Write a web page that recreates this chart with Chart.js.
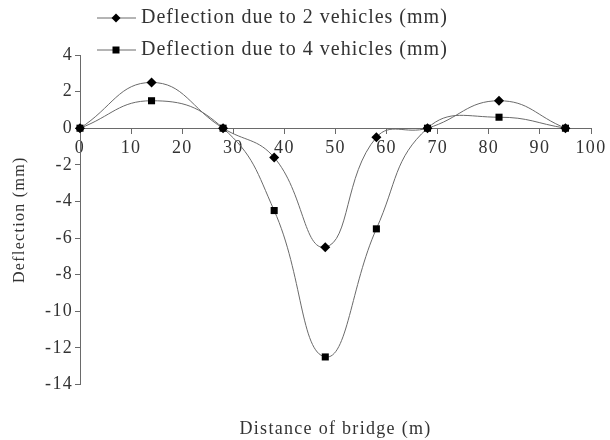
<!DOCTYPE html>
<html>
<head>
<meta charset="utf-8">
<script src="https://cdn.jsdelivr.net/npm/chart.js@4"></script>
<style>
  html, body { margin: 0; padding: 0; background: #fff; }
  #wrap { width: 610px; height: 440px; }
</style>
</head>
<body>
<div id="wrap"><canvas id="deflectionChart" width="610" height="440"></canvas></div>
<script>
// Data
const distance = [0, 14, 28, 38, 48, 58, 68, 82, 95];
const twoVehicles = [0, 2.5, 0, -1.6, -6.5, -0.5, 0, 1.5, 0];
const fourVehicles = [0, 1.5, 0, -4.5, -12.5, -5.5, 0, 0.6, 0];
const seriesNames = ['Deflection due to 2 vehicles (mm)', 'Deflection due to 4 vehicles (mm)'];
const xTicks = [0, 100, 10];   // min, max, step
const yTicks = [-14, 4, 2];

const serif = "'Liberation Serif', 'DejaVu Serif', serif";
const textColor = '#333';
const lineColor = '#6a6a6a';

function pairs(xs, ys) {
    return xs.map((x, i) => ({ x: x, y: ys[i] }));
}

// original text looks a little stretched sideways
const wideText = {
    id: 'wideText',
    beforeDraw(chart) { chart.ctx.letterSpacing = '1.3px'; }
};

// legend drawn as in the original: short line with marker, stacked rows
const lineLegend = {
    id: 'lineLegend',
    afterDraw(chart) {
        const ctx = chart.ctx;
        const rows = [18, 50];
        ctx.save();
        chart.data.datasets.forEach((ds, i) => {
            const y = rows[i];
            ctx.strokeStyle = lineColor;
            ctx.lineWidth = 1;
            ctx.beginPath();
            ctx.moveTo(97, y);
            ctx.lineTo(136, y);
            ctx.stroke();
            ctx.fillStyle = '#000';
            ctx.beginPath();
            if (ds.pointStyle === 'rectRot') {
                ctx.moveTo(116, y - 4.5);
                ctx.lineTo(120.5, y);
                ctx.lineTo(116, y + 4.5);
                ctx.lineTo(111.5, y);
                ctx.closePath();
            } else {
                ctx.rect(112.5, y - 3.5, 7, 7);
            }
            ctx.fill();
            ctx.fillStyle = textColor;
            ctx.font = '20px ' + serif;
            ctx.letterSpacing = '1px';
            ctx.textBaseline = 'middle';
            ctx.textAlign = 'left';
            ctx.fillText(ds.label, 141, y);
        });
        ctx.restore();
    }
};

const ctx = document.getElementById('deflectionChart').getContext('2d');
new Chart(ctx, {
    type: 'line',
    data: {
        datasets: [{
            label: seriesNames[0],
            data: pairs(distance, twoVehicles),
            borderColor: lineColor,
            borderWidth: 1,
            backgroundColor: '#000',
            pointStyle: 'rectRot',
            pointRadius: 5,
            pointBorderWidth: 0,
            tension: 0.45,
            clip: false
        },
        {
            label: seriesNames[1],
            data: pairs(distance, fourVehicles),
            borderColor: lineColor,
            borderWidth: 1,
            backgroundColor: '#000',
            pointStyle: 'rect',
            pointRadius: 5,
            pointBorderWidth: 0,
            tension: 0.45,
            clip: false
        }]
    },
    options: {
        responsive: false,
        animation: false,
        layout: { padding: { top: 55, right: 19, bottom: 0, left: 0 } },
        scales: {
            x: {
                type: 'linear',
                position: { y: 0 },
                min: xTicks[0],
                max: xTicks[1],
                ticks: { stepSize: xTicks[2], color: textColor, font: { family: serif, size: 18 }, padding: 4, maxRotation: 0 },
                grid: { drawOnChartArea: false, drawTicks: true, tickLength: 5, color: lineColor },
                border: { color: lineColor },
                afterFit(scale) { scale.height = 0; }
            },
            y: {
                min: yTicks[0],
                max: yTicks[1],
                ticks: { stepSize: yTicks[2], color: textColor, font: { family: serif, size: 18 }, padding: 2 },
                grid: { drawOnChartArea: false, drawTicks: true, tickLength: 5, color: lineColor },
                border: { color: lineColor },
                title: { display: true, text: 'Deflection (mm)', color: textColor, font: { family: serif, size: 16 }, padding: { top: 10, bottom: 0 } },
                afterFit(scale) { scale.width = 80; }
            }
        },
        plugins: {
            legend: { display: false },
            tooltip: { enabled: false },
            title: {
                display: true,
                position: 'bottom',
                fullSize: false,
                text: 'Distance of bridge (m)',
                color: textColor,
                font: { family: serif, size: 18, weight: 'normal' },
                padding: { top: 34, bottom: 0 }
            }
        }
    },
    plugins: [wideText, lineLegend]
});
</script>
</body>
</html>
